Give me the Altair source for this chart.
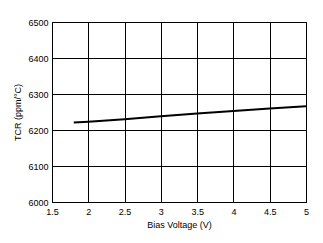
import altair as alt
import pandas as pd

bias_v = [1.8, 2.0, 2.5, 3.0, 3.5, 4.0, 4.5, 5.0]
tcr = [6221, 6223, 6230, 6238, 6246, 6253, 6260, 6266]

df = pd.DataFrame({"v": bias_v, "tcr": tcr})

font = "Liberation Sans"

chart = alt.Chart(df).mark_line(color="black", strokeWidth=2).encode(
    x=alt.X("v:Q", title="Bias Voltage (V)",
            scale=alt.Scale(domain=[1.5, 5], nice=False, zero=False),
            axis=alt.Axis(values=[1.5, 2, 2.5, 3, 3.5, 4, 4.5, 5], format="~g",
                          ticks=False, labelPadding=5, titlePadding=4,
                          gridColor="black", gridOpacity=1, domainColor="black",
                          labelFlush=False)),
    y=alt.Y("tcr:Q", title="TCR (ppm/°C)",
            scale=alt.Scale(domain=[6000, 6500], nice=False, zero=False),
            axis=alt.Axis(values=[6000, 6100, 6200, 6300, 6400, 6500], format="d",
                          ticks=False, labelPadding=4, titlePadding=5,
                          gridColor="black", gridOpacity=1, domainColor="black",
                          labelFlush=False)),
).properties(
    width=254, height=180,
    autosize=alt.AutoSizeParams(type="none"),
    padding={"left": 52, "top": 22, "right": 17, "bottom": 41},
).configure_axis(
    labelFont=font, titleFont=font, labelFontSize=9, titleFontSize=9,
    titleFontWeight="normal", labelColor="black", titleColor="black",
    domainWidth=1, gridWidth=1,
).configure_view(stroke="black", strokeWidth=1)

chart.save("out.html", embed_options={"renderer": "svg", "actions": False})
